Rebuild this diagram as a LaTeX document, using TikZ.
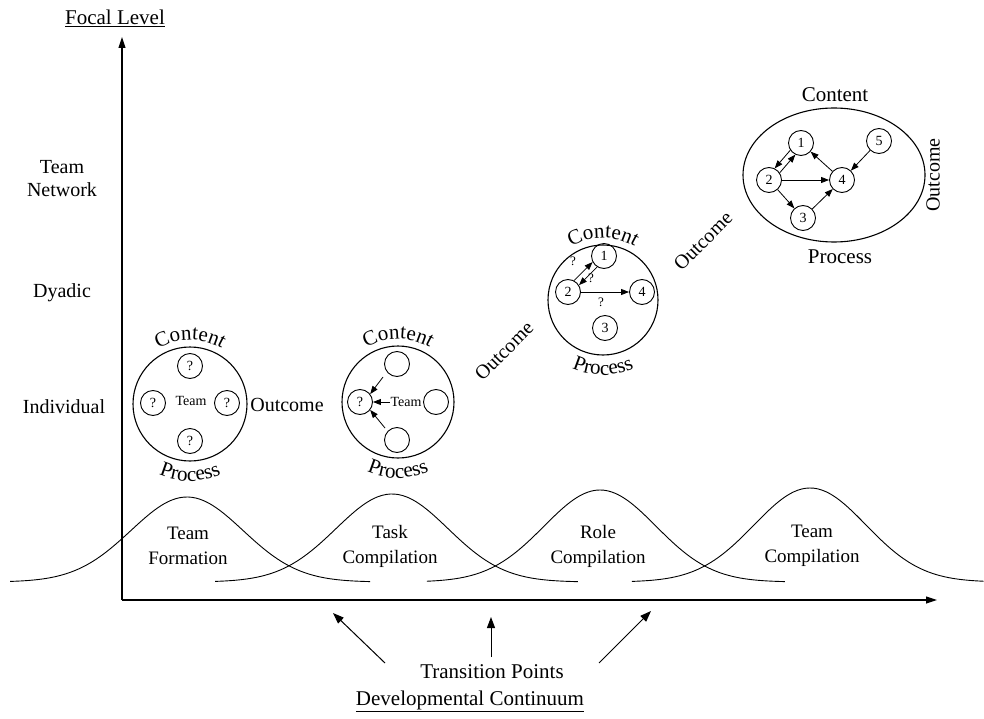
\documentclass[tikz,border=0pt]{standalone}
\usepackage{fontspec}
\setmainfont{Liberation Serif}
\usetikzlibrary{arrows.meta,decorations.text,shapes.geometric}
\newcommand{\fsz}[2]{\fontsize{#1}{#2}\selectfont}
\begin{document}
\begin{tikzpicture}[x=1pt,y=-1pt,
 line width=0.9pt,
 lbl/.style={font=\fsz{20}{23}, align=center, inner sep=0pt},
 clbl/.style={font=\fsz{19}{25}, align=center, inner sep=0pt},
 small/.style={circle, draw, line width=0.9pt, minimum size=25pt, inner sep=0pt, font=\fsz{14}{14}},
 bigc/.style={circle, draw, line width=1.1pt, inner sep=0pt},
 ax/.style={line width=1.1pt, -{Triangle[length=11pt,width=7pt]}},
 sarr/.style={line width=0.8pt, -{Triangle[length=8pt,width=6pt]}},
 tarr/.style={line width=1pt, -{Triangle[length=11pt,width=8pt]}},
 qm/.style={font=\fsz{13}{13}, inner sep=0pt},
 bell/.style={line width=0.9pt, smooth},
]
\useasboundingbox (0,0) rectangle (984,719);

% axes
\coordinate (O) at (122,600);
\coordinate (ytop) at (122,37);
\coordinate (xend) at (937,600);
\draw[ax] (O) -- (ytop);
\draw[ax] (O) -- (xend);
\node[lbl, font=\fsz{21}{23}] (focal) at (115,18) {\underline{Focal Level}};
\node[lbl, font=\fsz{21}{23}] (devcont) at (470,701) {\underline{Developmental Continuum}};
\node[lbl, font=\fsz{21}{23}] (trans) at (492,672) {Transition Points};

% level labels
\node[lbl] (lteam) at (62,179) {Team\\Network};
\node[lbl] (ldyad) at (62,293) {Dyadic};
\node[lbl] (lind) at (64,407) {Individual};

% bell curves
\draw[bell] plot[domain=-3.16:3.27, samples=90] ({187+56*\x},{582-85*exp(-\x*\x/2)});
\draw[bell] plot[domain=-3.16:3.32, samples=90] ({392+56*\x},{582-88*exp(-\x*\x/2)});
\draw[bell] plot[domain=-3.09:3.30, samples=90] ({600+56*\x},{582-92*exp(-\x*\x/2)});
\draw[bell] plot[domain=-3.18:3.10, samples=90] ({810+56*\x},{582-94*exp(-\x*\x/2)});
\node[clbl] (ph1) at (188,546) {Team\\Formation};
\node[clbl] (ph2) at (390,546) {Task\\Compilation};
\node[clbl] (ph3) at (598,546) {Role\\Compilation};
\node[clbl] (ph4) at (812,546) {Team\\Compilation};

% transition arrows
\coordinate (ta1s) at (385,663); \coordinate (ta1e) at (333,613);
\coordinate (ta2s) at (491,657); \coordinate (ta2e) at (491,617);
\coordinate (ta3s) at (599,663); \coordinate (ta3e) at (651,611);
\draw[tarr] (ta1s) -- (ta1e);
\draw[tarr] (ta2s) -- (ta2e);
\draw[tarr] (ta3s) -- (ta3e);

% ---- circle 1: individual
\node[bigc, minimum size=114pt] (c1) at (190,404) {};
\node[small] (c1t) at (190,366) {?};
\node[small] (c1l) at (153,403) {?};
\node[small] (c1r) at (227,403) {?};
\node[small] (c1b) at (190,441) {?};
\node[font=\fsz{14}{14}, inner sep=0pt] (c1team) at (191,401) {Team};
\path[decorate, decoration={text along path, text align=center, text={|\fsz{21}{21}|Content}}]
  ([shift={(140:64pt)}]c1.center) arc[start angle=140, end angle=40, radius=64pt];
\path[decorate, decoration={text along path, text align=center, text={|\fsz{21}{21}|Process}}]
  ([shift={(230:77pt)}]c1.center) arc[start angle=230, end angle=310, radius=77pt];
\node[lbl] (out1) at (287,405) {Outcome};

% ---- circle 2: individual with arrows
\node[bigc, minimum size=112pt] (c2) at (398,402) {};
\node[small] (c2q) at (360,402) {?};
\node[small] (c2t) at (397,364) {};
\node[small] (c2r) at (436,402) {};
\node[small] (c2b) at (397,440) {};
\node[font=\fsz{14}{14}, inner sep=0.5pt] (c2team) at (406,402) {Team};
\coordinate (c2a) at (383,377);
\coordinate (c2c) at (385,428);
\draw[sarr] (c2team.west) -- (c2q.east);
\draw[sarr] (c2a) -- (c2q.38);
\draw[sarr] (c2c) -- (c2q.-38);
\path[decorate, decoration={text along path, text align=center, text={|\fsz{21}{21}|Content}}]
  ([shift={(140:63pt)}]c2.center) arc[start angle=140, end angle=40, radius=63pt];
\path[decorate, decoration={text along path, text align=center, text={|\fsz{21}{21}|Process}}]
  ([shift={(230:76pt)}]c2.center) arc[start angle=230, end angle=310, radius=76pt];
\node[lbl, rotate=45] (out2) at (504,351) {Outcome};

% ---- circle 3: dyadic
\node[bigc, minimum size=110pt] (c3) at (603,300) {};
\node[small] (c3n1) at (604,256) {1};
\node[small] (c3n2) at (568,292) {2};
\node[small] (c3n4) at (642,292) {4};
\node[small] (c3n3) at (605,328) {3};
\draw[sarr] (c3n2.62) -- (c3n1.208);
\draw[sarr] (c3n1.238) -- (c3n2.32);
\draw[sarr] (c3n2) -- (c3n4);
\node[qm] (q1) at (573,261) {?};
\node[qm] (q2) at (591,278) {?};
\node[qm] (q3) at (601,302) {?};
\path[decorate, decoration={text along path, text align=center, text={|\fsz{21}{21}|Content}}]
  ([shift={(140:62pt)}]c3.center) arc[start angle=140, end angle=40, radius=62pt];
\path[decorate, decoration={text along path, text align=center, text={|\fsz{21}{21}|Process}}]
  ([shift={(230:75pt)}]c3.center) arc[start angle=230, end angle=310, radius=75pt];
\node[lbl, rotate=45] (out3) at (703,241) {Outcome};

% ---- ellipse 4: team network
\node[ellipse, draw, line width=1.1pt, minimum width=182pt, minimum height=134pt, inner sep=0pt] (c4) at (834,175) {};
\node[small] (d1) at (801,143) {1};
\node[small] (d2) at (769,180) {2};
\node[small] (d4) at (842,180) {4};
\node[small] (d3) at (803,218) {3};
\node[small] (d5) at (879,141) {5};
\draw[sarr] (d1.214) -- (d2.64);
\draw[sarr] (d2.34) -- (d1.244);
\draw[sarr] (d2) -- (d4);
\draw[sarr] (d2) -- (d3);
\draw[sarr] (d3) -- (d4);
\draw[sarr] (d4) -- (d1);
\draw[sarr] (d5) -- (d4);
\node[lbl, font=\fsz{21}{23}] (cont4) at (835,95) {Content};
\node[lbl, font=\fsz{21}{23}] (proc4) at (840,257) {Process};
\node[lbl, rotate=90] (out4) at (933,175) {Outcome};

\end{tikzpicture}
\end{document}
